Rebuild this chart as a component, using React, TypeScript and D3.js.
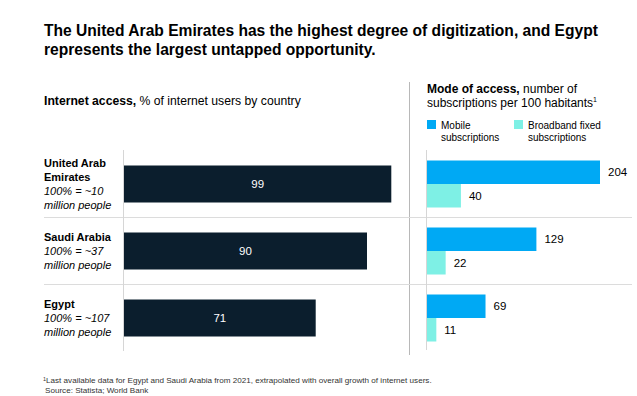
import React from "react";
import * as d3 from "d3";

// data
const countries = ["UAE", "Saudi Arabia", "Egypt"];
const countryNames = [["United Arab", "Emirates"], ["Saudi Arabia"], ["Egypt"]];
const populationNotes = [
  ["100% = ~10", "million people"],
  ["100% = ~37", "million people"],
  ["100% = ~107", "million people"],
];
const internetAccess = [99, 90, 71];
const mobileSubs = [204, 129, 69];
const broadbandSubs = [40, 22, 11];

const W = 637;
const H = 396;
const NAVY = "#0b1e2d";
const BLUE = "#00a9f4";
const TEAL = "#7ef0e5";
const FONT = "'Liberation Sans', Arial, sans-serif";

const App = () => {
  const rowY = d3.scaleBand<string>().domain(countries).range([150, 351]);
  const leftX = d3.scaleLinear().domain([0, 100]).range([124, 394]);
  const rightX = d3.scaleLinear().domain([0, 204]).range([427, 600]);
  const subY = d3
    .scaleBand<string>()
    .domain(["mobile", "broadband"])
    .range([10.5, 57.5]);

  return (
    <svg
      width={W}
      height={H}
      style={{ position: "absolute", left: 0, top: 0, fontFamily: FONT }}
    >
      <rect width={W} height={H} fill="#fff" />

      {/* title */}
      <text x={44} y={36} fontSize={15.6} fontWeight="bold" fill="#000">
        <tspan x={44}>The United Arab Emirates has the highest degree of digitization, and Egypt</tspan>
        <tspan x={44} dy={19}>represents the largest untapped opportunity.</tspan>
      </text>

      {/* left heading */}
      <text x={44} y={105} fontSize={12.2} fill="#000">
        <tspan fontWeight="bold">Internet access,</tspan> % of internet users by country
      </text>

      {/* right heading */}
      <text x={427} y={93} fontSize={12} fill="#000">
        <tspan fontWeight="bold">Mode of access,</tspan> number of
        <tspan x={427} dy={14}>subscriptions per 100 habitants</tspan>
        <tspan fontSize={7} dy={-5}>1</tspan>
      </text>

      {/* legend */}
      <rect x={427} y={120} width={9} height={9} fill={BLUE} />
      <text x={441} y={129} fontSize={10} fill="#000">
        <tspan x={441}>Mobile</tspan>
        <tspan x={441} dy={12}>subscriptions</tspan>
      </text>
      <rect x={514} y={120} width={9} height={9} fill={TEAL} />
      <text x={528} y={129} fontSize={10} fill="#000">
        <tspan x={528}>Broadband fixed</tspan>
        <tspan x={528} dy={12}>subscriptions</tspan>
      </text>

      {/* divider and separators */}
      <line x1={409.5} x2={409.5} y1={82} y2={355} stroke="#b8b8b8" />
      {countries.slice(1).map((c) => (
        <line
          key={c}
          x1={44}
          x2={632}
          y1={Math.round(rowY(c)!) + 0.5}
          y2={Math.round(rowY(c)!) + 0.5}
          stroke="#dcdcdc"
        />
      ))}
      <line x1={123.5} x2={123.5} y1={150} y2={351} stroke="#d6d6d6" />
      <line x1={426.5} x2={426.5} y1={150} y2={350} stroke="#d6d6d6" />

      {countries.map((c, i) => {
        const top = rowY(c)!;
        const center = top + 34;
        const lines = [...countryNames[i], ...populationNotes[i]];
        const first = center - ((lines.length - 1) * 14) / 2 + 4;
        return (
          <g key={c}>
            {/* row labels */}
            <text fontSize={11} fill="#000">
              {countryNames[i].map((l, j) => (
                <tspan key={l} x={44} y={first + j * 14} fontWeight="bold">
                  {l}
                </tspan>
              ))}
              {populationNotes[i].map((l, j) => (
                <tspan
                  key={l}
                  x={44}
                  y={first + (countryNames[i].length + j) * 14}
                  fontStyle="italic"
                >
                  {l}
                </tspan>
              ))}
            </text>

            {/* internet access bar */}
            <rect
              x={leftX(0)}
              y={top + 15.5}
              width={leftX(internetAccess[i]) - leftX(0)}
              height={37}
              fill={NAVY}
            />
            <text
              x={(leftX(0) + leftX(internetAccess[i])) / 2}
              y={top + 34 + 4}
              fontSize={11.5}
              fill="#fff"
              textAnchor="middle"
            >
              {internetAccess[i]}
            </text>

            {/* mode of access bars */}
            <rect
              x={rightX(0)}
              y={top + subY("mobile")!}
              width={rightX(mobileSubs[i]) - rightX(0)}
              height={subY.bandwidth()}
              fill={BLUE}
            />
            <text
              x={rightX(mobileSubs[i]) + 8}
              y={top + subY("mobile")! + subY.bandwidth() / 2 + 4}
              fontSize={11.5}
              fill="#000"
            >
              {mobileSubs[i]}
            </text>
            <rect
              x={rightX(0)}
              y={top + subY("broadband")!}
              width={rightX(broadbandSubs[i]) - rightX(0)}
              height={subY.bandwidth()}
              fill={TEAL}
            />
            <text
              x={rightX(broadbandSubs[i]) + 8}
              y={top + subY("broadband")! + subY.bandwidth() / 2 + 4}
              fontSize={11.5}
              fill="#000"
            >
              {broadbandSubs[i]}
            </text>
          </g>
        );
      })}

      {/* footnote */}
      <text x={43} y={383} fontSize={8.1} fill="#333">
        <tspan x={43}>
          <tspan fontSize={5.5} dy={-2.5}>1</tspan>
          <tspan dy={2.5}>Last available data for Egypt and Saudi Arabia from 2021, extrapolated with overall growth of internet users.</tspan>
        </tspan>
        <tspan x={45} y={393}>Source: Statista; World Bank</tspan>
      </text>
    </svg>
  );
};

export default App;
